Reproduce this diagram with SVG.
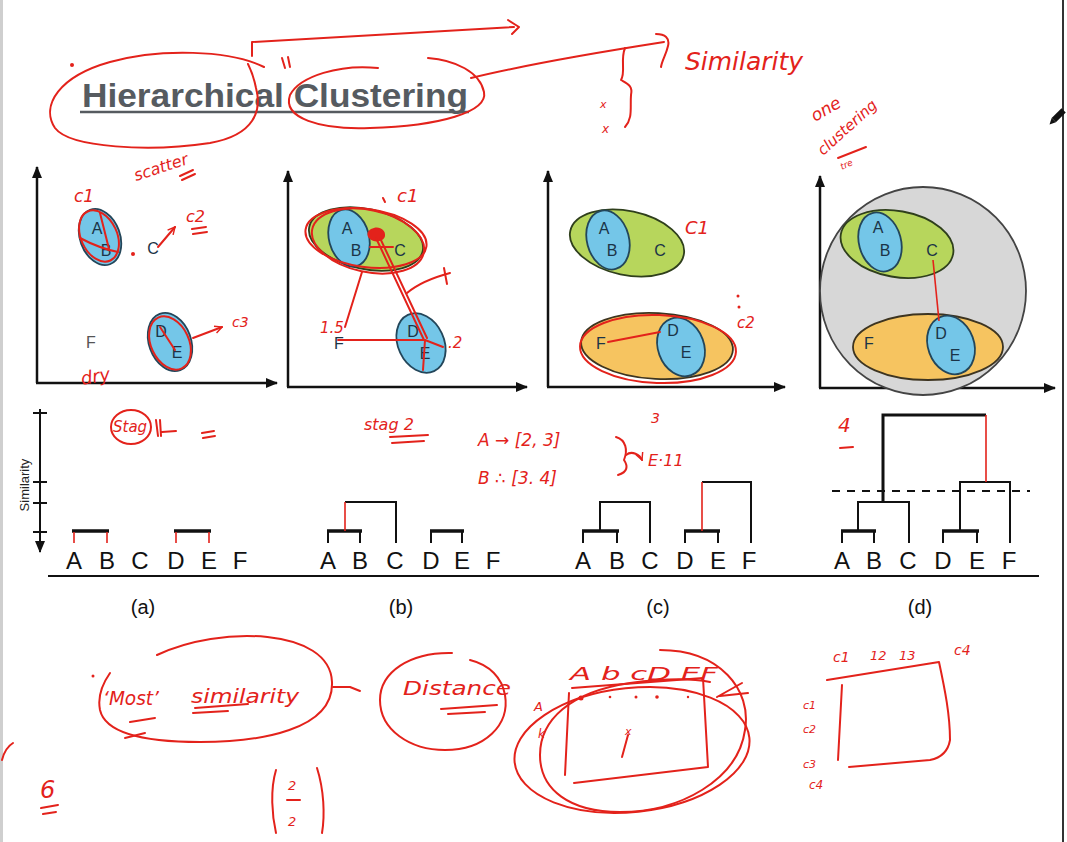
<svg xmlns="http://www.w3.org/2000/svg" width="1067" height="842" viewBox="0 0 1067 842">
<defs>
<style>
.ax{stroke:#111;stroke-width:2.5;fill:none}
.blue{fill:#74c6e8;stroke:#23465a;stroke-width:1.8}
.green{fill:#b7d65c;stroke:#2f3f1c;stroke-width:1.8}
.orange{fill:#f6c460;stroke:#3d3420;stroke-width:1.8}
.gray{fill:#d7d7d7;stroke:#444;stroke-width:1.8}
.pt{font-family:"Liberation Sans",Arial,sans-serif;font-size:16px;fill:#1b3447;text-anchor:middle}
.lt{font-family:"Liberation Sans",Arial,sans-serif;font-size:24px;fill:#111;text-anchor:middle}
.cap{font-family:"Liberation Sans",Arial,sans-serif;font-size:20px;fill:#111;text-anchor:middle}
.dk{stroke:#111;stroke-width:2;fill:none}
.thick{stroke:#111;stroke-width:3.5;fill:none}
.rl{stroke:#e3221b;stroke-width:1.6;fill:none}
.rd{stroke:#e3221b;stroke-width:2;fill:none;stroke-linecap:round;stroke-linejoin:round}
.hw{font-family:"DejaVu Sans",sans-serif;font-style:italic;fill:#e3221b}
</style>
<marker id="ah" viewBox="0 0 12 10" refX="11" refY="5" markerWidth="12" markerHeight="10" markerUnits="userSpaceOnUse" orient="auto">
<path d="M0,0 L12,5 L0,10 z" fill="#111"/>
</marker>
<marker id="ra" viewBox="0 0 10 10" refX="9" refY="5" markerWidth="9" markerHeight="9" markerUnits="userSpaceOnUse" orient="auto">
<path d="M1,1 L9,5 L1,9" fill="none" stroke="#e3221b" stroke-width="1.6"/>
</marker>
</defs>
<rect width="1067" height="842" fill="#fff"/>
<rect x="0" y="0" width="3" height="842" fill="#cfcfcf"/>
<line x1="1063" y1="0" x2="1063" y2="842" stroke="#333" stroke-width="2"/>

<g id="title">
<text x="82" y="107" font-family="Liberation Sans,Arial,sans-serif" font-size="34" font-weight="bold" fill="#565b60" textLength="386" lengthAdjust="spacingAndGlyphs">Hierarchical Clustering</text>
<line x1="80" y1="112" x2="469" y2="112" stroke="#565b60" stroke-width="2.5"/>
</g>

<g id="panel-a">
<line class="ax" x1="37" y1="383" x2="37" y2="167" marker-end="url(#ah)"/>
<line class="ax" x1="36" y1="383" x2="277" y2="383" marker-end="url(#ah)"/>
<ellipse class="blue" cx="100" cy="237" rx="20" ry="29" transform="rotate(-20 100 237)"/>
<ellipse class="blue" cx="170" cy="342" rx="21" ry="30" transform="rotate(-20 170 342)"/>
<text class="pt" x="97" y="234">A</text>
<text class="pt" x="106" y="256">B</text>
<text class="pt" x="153" y="254">C</text>
<text class="pt" x="161" y="337">D</text>
<text class="pt" x="177" y="358">E</text>
<text class="pt" x="91" y="348" style="fill:#555">F</text>
</g>

<g id="panel-b">
<line class="ax" x1="288" y1="387" x2="288" y2="171" marker-end="url(#ah)"/>
<line class="ax" x1="287" y1="387" x2="527" y2="387" marker-end="url(#ah)"/>
<ellipse class="green" cx="366" cy="239" rx="58" ry="30" transform="rotate(12 366 239)"/>
<ellipse class="blue" cx="349" cy="238" rx="20" ry="29" transform="rotate(-15 349 238)"/>
<ellipse class="blue" cx="421" cy="343" rx="23" ry="31" transform="rotate(-25 421 343)"/>
<text class="pt" x="347" y="234">A</text>
<text class="pt" x="356" y="256">B</text>
<text class="pt" x="400" y="256">C</text>
<text class="pt" x="413" y="337">D</text>
<text class="pt" x="425" y="359">E</text>
<text class="pt" x="339" y="349">F</text>
</g>

<g id="panel-c">
<line class="ax" x1="548" y1="387" x2="548" y2="171" marker-end="url(#ah)"/>
<line class="ax" x1="547" y1="387" x2="785" y2="387" marker-end="url(#ah)"/>
<ellipse class="green" cx="627" cy="243" rx="58" ry="32" transform="rotate(12 627 243)"/>
<ellipse class="blue" cx="608" cy="240" rx="21" ry="30" transform="rotate(-15 608 240)"/>
<ellipse class="orange" cx="657" cy="346" rx="76" ry="33" transform="rotate(3 657 346)"/>
<ellipse class="blue" cx="681" cy="347" rx="23" ry="30" transform="rotate(-20 681 347)"/>
<text class="pt" x="604" y="234">A</text>
<text class="pt" x="612" y="256">B</text>
<text class="pt" x="660" y="256">C</text>
<text class="pt" x="673" y="336">D</text>
<text class="pt" x="686" y="358">E</text>
<text class="pt" x="601" y="349">F</text>
</g>

<g id="panel-d">
<line class="ax" x1="820" y1="388" x2="820" y2="176" marker-end="url(#ah)"/>
<line class="ax" x1="819" y1="388" x2="1055" y2="388" marker-end="url(#ah)"/>
<ellipse class="gray" cx="923" cy="291" rx="103" ry="104"/>
<ellipse class="green" cx="897" cy="244" rx="57" ry="33" transform="rotate(10 897 244)"/>
<ellipse class="blue" cx="880" cy="242" rx="21" ry="30" transform="rotate(-15 880 242)"/>
<ellipse class="orange" cx="928" cy="347" rx="75" ry="33"/>
<ellipse class="blue" cx="951" cy="345" rx="23" ry="30" transform="rotate(-20 951 345)"/>
<text class="pt" x="878" y="233">A</text>
<text class="pt" x="885" y="256">B</text>
<text class="pt" x="932" y="256">C</text>
<text class="pt" x="941" y="339">D</text>
<text class="pt" x="955" y="361">E</text>
<text class="pt" x="869" y="349">F</text>
</g>

<g id="similarity-axis">
<line x1="40" y1="409" x2="40" y2="552" stroke="#111" stroke-width="2" marker-end="url(#ah)"/>
<path class="dk" d="M33,413 H47 M33,482 H47 M33,503 H47 M33,532 H47"/>
<text x="29" y="485" transform="rotate(-90 29 485)" font-family="Liberation Sans,Arial,sans-serif" font-size="13" fill="#222" text-anchor="middle">Similarity</text>
</g>

<g id="dendrograms">
<line x1="48" y1="576" x2="1039" y2="576" stroke="#111" stroke-width="2"/>
<g id="dendro-a">
<path class="thick" d="M72,531 H109 M174,531 H211"/>
<path class="rl" d="M74,532 V543 M107,532 V543 M176,532 V543 M209,532 V543"/>
<text class="lt" x="74" y="569">A</text><text class="lt" x="107" y="569">B</text><text class="lt" x="140" y="569">C</text><text class="lt" x="176" y="569">D</text><text class="lt" x="209" y="569">E</text><text class="lt" x="240" y="569">F</text>
<text class="cap" x="143" y="614">(a)</text>
</g>
<g id="dendro-b">
<path class="thick" d="M327,531 H362 M430,531 H464"/>
<path class="dk" d="M328,531 V543 M360,531 V543 M345,502 H396 V543 M431,531 V543 M462,531 V543"/>
<path class="rl" d="M345,531 V502"/>
<text class="lt" x="328" y="569">A</text><text class="lt" x="360" y="569">B</text><text class="lt" x="395" y="569">C</text><text class="lt" x="431" y="569">D</text><text class="lt" x="462" y="569">E</text><text class="lt" x="493" y="569">F</text>
<text class="cap" x="401" y="614">(b)</text>
</g>
<g id="dendro-c">
<path class="thick" d="M582,531 H619 M684,531 H720"/>
<path class="dk" d="M583,531 V543 M617,531 V543 M600,531 V502 H650 V543 M685,531 V543 M718,531 V543 M702,482 H751 V543"/>
<path class="rl" d="M702,531 V482"/>
<text class="lt" x="583" y="569">A</text><text class="lt" x="617" y="569">B</text><text class="lt" x="650" y="569">C</text><text class="lt" x="685" y="569">D</text><text class="lt" x="718" y="569">E</text><text class="lt" x="749" y="569">F</text>
<text class="cap" x="658" y="614">(c)</text>
</g>
<g id="dendro-d">
<path class="thick" d="M841,531 H876 M942,531 H979"/>
<path class="dk" d="M842,531 V543 M874,531 V543 M858,531 V502 H909 V543 M943,531 V543 M977,531 V543 M960,531 V482 H1010 V543"/>
<path d="M883,502 V415 H986" stroke="#111" stroke-width="3" fill="none"/>
<path class="rl" d="M986,415 V482"/>
<line x1="832" y1="491" x2="1030" y2="491" stroke="#111" stroke-width="2" stroke-dasharray="8 7"/>
<text class="lt" x="842" y="569">A</text><text class="lt" x="874" y="569">B</text><text class="lt" x="908" y="569">C</text><text class="lt" x="943" y="569">D</text><text class="lt" x="977" y="569">E</text><text class="lt" x="1009" y="569">F</text>
<text class="cap" x="920" y="614">(d)</text>
</g>
</g>

<g id="annotations">
<!-- title area -->
<circle cx="72" cy="65" r="2" fill="#e3221b"/>
<path class="rd" d="M264,67 C230,50 160,48 110,62 C60,76 40,105 55,128 C70,148 150,152 210,143 C255,135 262,110 256,88 C254,78 252,72 248,64"/>
<path class="rd" d="M378,68 C340,64 300,76 290,95 C282,118 320,130 370,128 C440,126 488,112 484,92 C480,72 455,60 428,58"/>
<path class="rd" d="M252,56 V42 L514,27 M508,20 L519,27 L512,34"/>
<path class="rd" d="M282,58 L285,68 M288,57 L290,67"/>
<path class="rd" d="M471,78 C520,66 600,52 664,42 M656,34 C665,34 670,38 668,46 C666,55 662,60 661,67"/>
<text class="hw" x="685" y="70" font-size="24" textLength="118" lengthAdjust="spacingAndGlyphs">Similarity</text>
<path class="rd" d="M625,48 C620,60 626,72 621,80 C628,84 633,86 631,95 C630,108 633,118 625,127"/>
<text class="hw" x="600" y="108" font-size="11">x</text>
<text class="hw" x="602" y="133" font-size="12">x</text>
<text class="hw" x="815" y="122" font-size="17" transform="rotate(-30 815 122)">one</text>
<text class="hw" x="823" y="156" font-size="15" transform="rotate(-42 823 156)">clustering</text>
<path class="rd" d="M838,158 L866,147"/>
<text class="hw" x="842" y="170" font-size="9" transform="rotate(-25 842 170)">tre</text>

<!-- pencil cursor -->
<g transform="rotate(-45 1058 116)">
<rect x="1052" y="113" width="14" height="6" fill="#111"/>
<path d="M1052,113 L1046,116 L1052,119 z" fill="#111"/>
</g>

<!-- panel a -->
<text class="hw" x="136" y="181" font-size="16" transform="rotate(-18 136 181)">scatter</text>
<path class="rd" d="M180,176 L193,170 M182,180 L195,174"/>
<text class="hw" x="74" y="202" font-size="17">c1</text>
<ellipse class="rd" cx="99" cy="236" rx="18" ry="27" transform="rotate(-25 99 236)"/>
<path class="rd" d="M80,238 C95,246 108,250 118,252 M100,213 L109,249"/>
<circle cx="133" cy="254" r="2" fill="#e3221b"/>
<path class="rd" d="M158,247 L175,227" marker-end="url(#ra)"/>
<text class="hw" x="186" y="222" font-size="16">c2</text>
<path class="rd" d="M192,229 L206,227 M193,234 L207,232"/>
<ellipse class="rd" cx="170" cy="343" rx="19" ry="28" transform="rotate(-25 170 343)"/>
<path class="rd" d="M160,327 L175,350"/>
<path class="rd" d="M193,338 L222,327" marker-end="url(#ra)"/>
<text class="hw" x="232" y="327" font-size="14">c3</text>
<text class="hw" x="82" y="385" font-size="18" transform="rotate(-10 82 385)">dry</text>
<ellipse class="rd" cx="131" cy="427" rx="20" ry="17"/>
<text class="hw" x="113" y="432" font-size="15">Stag</text>
<path class="rd" d="M156,420 L158,436 M160,420 L161,436 M162,432 L176,431"/>
<path class="rd" d="M202,433 L214,431 M203,438 L215,436"/>

<!-- panel b -->
<text class="hw" x="397" y="202" font-size="18">c1</text>
<path class="rd" d="M383,198 L385,202"/>
<ellipse class="rd" cx="366" cy="238" rx="61" ry="29" transform="rotate(8 366 238)"/>
<ellipse class="rd" cx="368" cy="241" rx="57" ry="31" transform="rotate(12 368 241)"/>
<path d="M371,229 C378,225 386,229 385,236 C384,242 374,243 370,239 C366,236 367,231 371,229 z" fill="#e3221b"/>
<path class="rd" d="M370,247 H393"/>
<path class="rd" d="M376,238 L424,340 M380,238 L427,338 M362,272 L345,327 M338,340 H425 L423,370 M425,340 L443,347"/>
<path class="rd" d="M407,293 C420,282 435,277 450,273 M444,268 L447,284"/>
<text class="hw" x="320" y="333" font-size="15">1.5</text>
<text class="hw" x="448" y="348" font-size="15">.2</text>
<text class="hw" x="364" y="430" font-size="16">stag 2</text>
<path class="rd" d="M390,437 L428,435 M392,443 L424,441"/>

<!-- panel c -->
<text class="hw" x="685" y="234" font-size="18">C1</text>
<ellipse class="rd" cx="658" cy="349" rx="78" ry="34" transform="rotate(2 658 349)"/>
<path class="rd" d="M608,342 L660,332"/>
<circle cx="738" cy="296" r="1.5" fill="#e3221b"/>
<circle cx="739" cy="307" r="1.5" fill="#e3221b"/>
<text class="hw" x="737" y="328" font-size="15">c2</text>

<!-- panel d -->
<path class="rl" d="M933,260 L939,321"/>

<!-- dendrogram notes -->
<text class="hw" x="478" y="446" font-size="17">A → [2, 3]</text>
<text class="hw" x="478" y="484" font-size="17">B ∴  [3. 4]</text>
<text class="hw" x="651" y="423" font-size="14">3</text>
<path class="rd" d="M616,437 C626,440 628,450 624,460 C628,466 628,472 618,475"/>
<path class="rd" d="M626,455 C632,450 640,455 642,460" marker-end="url(#ra)"/>
<text class="hw" x="648" y="466" font-size="16">E·11</text>
<text class="hw" x="838" y="432" font-size="20">4</text>
<path class="rd" d="M840,448 L853,447"/>

<!-- bottom notes -->
<circle cx="93" cy="676" r="1.5" fill="#e3221b"/>
<path class="rd" d="M157,655 C220,625 330,628 332,682 C334,730 260,742 200,742 C140,742 105,732 100,710 C97,695 103,683 110,673"/>
<text class="hw" x="103" y="705" font-size="20" textLength="56" lengthAdjust="spacingAndGlyphs">‘Most’</text>
<path class="rd" d="M130,722 L155,718 M125,738 L145,733"/>
<text class="hw" x="191" y="703" font-size="20" textLength="108" lengthAdjust="spacingAndGlyphs">similarity</text>
<path class="rd" d="M195,708 L248,704 M193,713 L228,711"/>
<path class="rd" d="M333,687 L350,687 L360,691"/>
<path class="rd" d="M452,653 C410,652 380,672 380,700 C380,730 410,750 445,750 C485,750 510,725 505,695 C502,678 490,665 470,660"/>
<text class="hw" x="403" y="695" font-size="20" textLength="108" lengthAdjust="spacingAndGlyphs">Distance</text>
<path class="rd" d="M441,709 L497,705 M448,714 L485,712"/>

<text class="hw" x="570" y="680" font-size="17" textLength="148" lengthAdjust="spacingAndGlyphs">A b cD EF</text>
<path class="rd" d="M572,688 L703,678 L708,767 L574,783 M569,693 L565,775"/>
<circle cx="581" cy="698" r="2.5" fill="#e3221b"/>
<circle cx="610" cy="697" r="1.3" fill="#e3221b"/>
<circle cx="636" cy="697" r="1.5" fill="#e3221b"/>
<circle cx="657" cy="697" r="1.8" fill="#e3221b"/>
<circle cx="688" cy="697" r="1.2" fill="#e3221b"/>
<text class="hw" x="625" y="735" font-size="11">x</text>
<path class="rd" d="M628,735 L622,757"/>
<ellipse class="rd" cx="632" cy="750" rx="118" ry="62" transform="rotate(-6 632 750)"/>
<path class="rd" d="M660,650 C720,650 752,690 745,730 C738,780 680,812 620,812 C570,812 540,790 540,755 C540,720 570,692 630,683 C660,679 690,678 710,682"/>
<path class="rd" d="M717,697 L742,683 M720,696 L748,693"/>
<text class="hw" x="534" y="711" font-size="13">A</text>
<text class="hw" x="538" y="738" font-size="12">k</text>

<path class="rd" d="M827,680 L939,662 C945,690 950,715 950,740 C948,752 940,758 930,760 L849,767 M842,685 L838,760"/>
<text class="hw" x="833" y="662" font-size="14">c1</text>
<text class="hw" x="870" y="660" font-size="13">12</text>
<text class="hw" x="899" y="660" font-size="13">13</text>
<text class="hw" x="954" y="655" font-size="14">c4</text>
<text class="hw" x="803" y="709" font-size="11">c1</text>
<text class="hw" x="803" y="733" font-size="11">c2</text>
<text class="hw" x="803" y="768" font-size="11">c3</text>
<text class="hw" x="809" y="789" font-size="12">c4</text>

<path class="rd" d="M2,760 C4,752 8,746 13,743"/>
<text class="hw" x="40" y="798" font-size="24">6</text>
<path class="rd" d="M41,808 L58,805 M43,814 L56,812"/>
<path class="rd" d="M276,770 C270,790 272,815 276,833 M317,768 C324,790 325,815 322,833"/>
<text class="hw" x="288" y="790" font-size="13">2</text>
<path class="rd" d="M287,800 L300,800"/>
<text class="hw" x="288" y="826" font-size="13">2</text>
</g>
</svg>
